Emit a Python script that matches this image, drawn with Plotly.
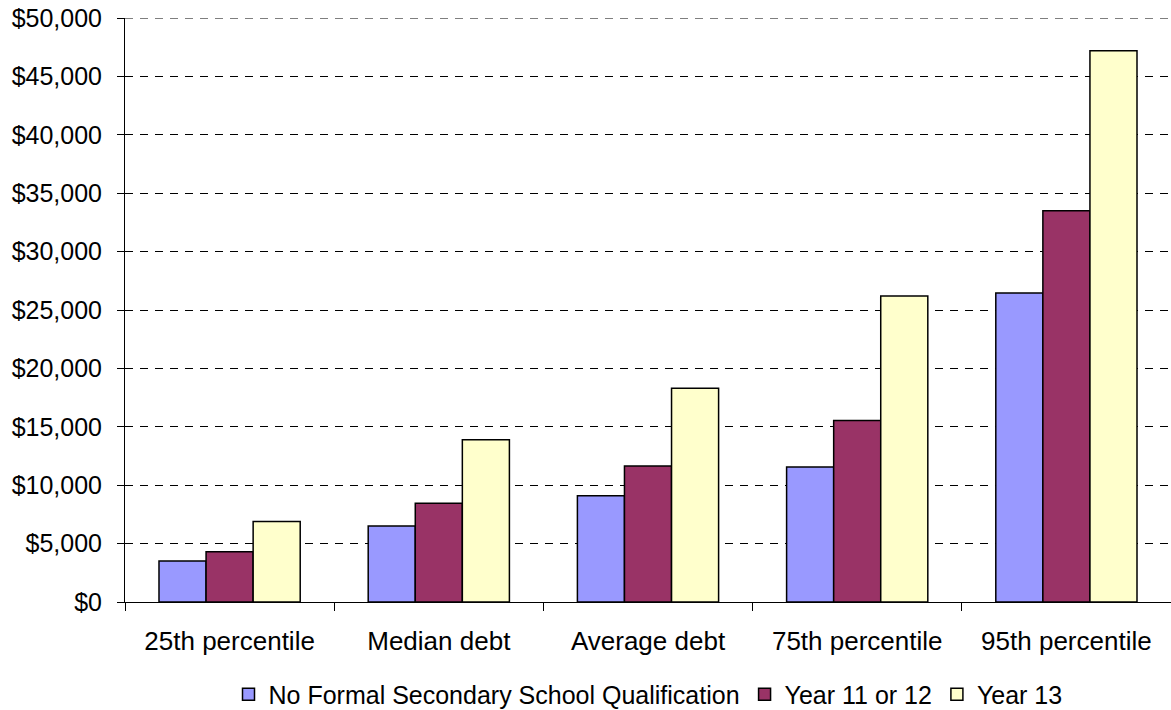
import plotly.graph_objects as go

categories = ["25th percentile", "Median debt", "Average debt", "75th percentile", "95th percentile"]
no_formal = [3500, 6500, 9100, 11550, 26450]
year_11_12 = [4300, 8450, 11650, 15550, 33500]
year_13 = [6900, 13900, 18300, 26200, 47200]

y_max = 50000
y_step = 5000

series = [
    ("No Formal Secondary School Qualification", no_formal, "#9999FF"),
    ("Year 11 or 12", year_11_12, "#993366"),
    ("Year 13", year_13, "#FFFFCC"),
]

fig = go.Figure()
for name, vals, color in series:
    fig.add_trace(go.Bar(
        x=categories, y=vals, name=name,
        marker=dict(color=color, line=dict(color="#000000", width=1.5)),
    ))

font = "Liberation Sans, Arial, sans-serif"
grid_dash = "8px,7px"

# dashed gridline at the top of the value range
fig.add_shape(type="line", xref="paper", yref="y", x0=0, x1=1, y0=y_max, y1=y_max,
              line=dict(color="#000000", width=1, dash=grid_dash), layer="below")

fig.update_layout(
    width=1171, height=710,
    margin=dict(l=125, r=0, t=18, b=108, autoexpand=False),
    paper_bgcolor="white", plot_bgcolor="white",
    barmode="group", bargap=0.325, bargroupgap=0,
    font=dict(family=font, size=24, color="#000000"),
    showlegend=True,
    legend=dict(orientation="h", x=0.5, xanchor="center",
                yref="container", y=0.022, yanchor="middle",
                font=dict(size=25), itemwidth=30, traceorder="normal"),
    xaxis=dict(
        showline=True, linecolor="#000000", linewidth=1,
        ticks="outside", ticklen=8, tickcolor="#000000", tickson="boundaries",
        tickfont=dict(size=26), showgrid=False, ticklabelstandoff=16,
        automargin=False,
    ),
    yaxis=dict(
        range=[0, y_max], dtick=y_step, tickprefix="$", tickformat=",d",
        showline=True, linecolor="#000000", linewidth=1,
        ticks="outside", ticklen=7, tickcolor="#000000", ticklabelstandoff=10,
        showgrid=True, gridcolor="#000000", griddash=grid_dash, gridwidth=1,
        tickfont=dict(size=25), zeroline=False, automargin=False,
    ),
)

fig.write_html("out.html")
